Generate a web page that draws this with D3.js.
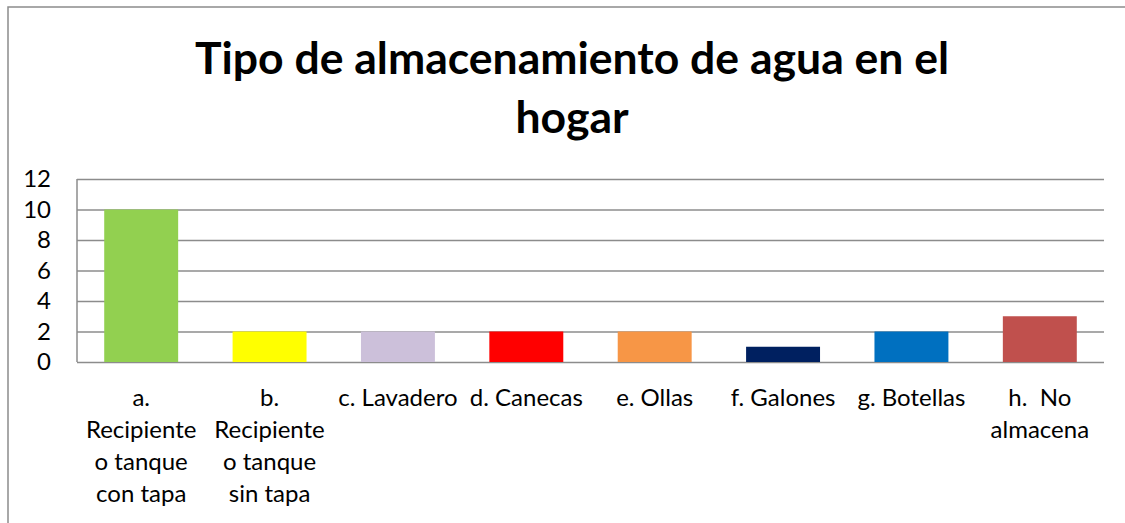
<!DOCTYPE html>
<html>
<head>
<meta charset="utf-8">
<script src="https://cdn.jsdelivr.net/npm/d3@7"></script>
<style>
  body { margin: 0; background: #fff; }
  svg { display: block; font-family: Lato, "Open Sans", sans-serif; }
</style>
</head>
<body>
<div id="chart"></div>
<script>
// categories (line breaks as in the original labels)
const categories = [
    "a.\nRecipiente\no tanque\ncon tapa",
    "b.\nRecipiente\no tanque\nsin tapa",
    "c. Lavadero",
    "d. Canecas",
    "e. Ollas",
    "f. Galones",
    "g. Botellas",
    "h.  No\nalmacena"
];
const values = [10, 2, 2, 2, 2, 1, 2, 3];
const barColors = ["#92D050", "#FFFF00", "#CCC0DA", "#FF0000", "#F79646", "#002060", "#0070C0", "#C0504D"];
const yTicks = [0, 2, 4, 6, 8, 10, 12];
const titleLines = ["Tipo de almacenamiento de agua en el", "hogar"];

const width = 1125;
const height = 523;
const plotLeft = 77, plotRight = 1104, plotTop = 179, plotBottom = 362;
const gridColor = '#8c8c8c';

const svg = d3.select('#chart')
    .append('svg')
        .attr('width', width)
        .attr('height', height);

// outer chart border (runs off the right and bottom edge)
svg.append('rect')
    .attr('x', 8)
    .attr('y', 7)
    .attr('width', width + 20)
    .attr('height', height + 20)
    .attr('fill', 'none')
    .attr('stroke', gridColor)
    .attr('stroke-width', 1.5);

// title
svg.append('g')
    .selectAll('text')
    .data(titleLines)
    .join('text')
        .attr('x', 572)
        .attr('y', (d, i) => 74 + i * 59)
        .attr('text-anchor', 'middle')
        .attr('font-size', 44.5)
        .attr('font-weight', 'bold')
        .attr('fill', '#000')
        .text(d => d);

const x = d3.scaleBand()
    .domain(categories)
    .range([plotLeft, plotRight])
    .paddingInner(0.424)
    .paddingOuter(0.212);

const y = d3.scaleLinear()
    .domain([0, 12])
    .range([plotBottom, plotTop]);

// y axis with gridlines
const yAxis = svg.append('g')
    .attr('transform', `translate(${plotLeft},0)`)
    .call(d3.axisLeft(y)
        .tickValues(yTicks)
        .tickSize(-(plotRight - plotLeft))
        .tickPadding(26));
yAxis.select('.domain')
    .attr('d', `M0,${plotTop}V${plotBottom}`)
    .attr('stroke', gridColor)
    .attr('stroke-width', 1.5);
yAxis.selectAll('.tick line')
    .attr('stroke', gridColor)
    .attr('stroke-width', 1.5);
yAxis.selectAll('.tick text')
    .attr('font-size', 24)
    .attr('font-family', 'Lato, sans-serif')
    .attr('fill', '#000');

// bars
svg.append('g')
    .selectAll('rect')
    .data(values)
    .join('rect')
        .attr('x', (d, i) => x(categories[i]))
        .attr('y', d => y(d))
        .attr('width', x.bandwidth())
        .attr('height', d => y(0) - y(d))
        .attr('fill', (d, i) => barColors[i]);

// category labels
const labels = svg.append('g')
    .selectAll('text')
    .data(categories)
    .join('text')
        .attr('x', d => x(d) + x.bandwidth() / 2)
        .attr('y', 406)
        .attr('text-anchor', 'middle')
        .attr('font-size', 24)
        .attr('fill', '#000');

labels.selectAll('tspan')
    .data(d => d.split('\n'))
    .join('tspan')
        .attr('x', function () { return d3.select(this.parentNode).attr('x'); })
        .attr('dy', (d, i) => i === 0 ? 0 : 32)
        .style('white-space', 'pre')
        .text(d => d);
</script>
</body>
</html>
